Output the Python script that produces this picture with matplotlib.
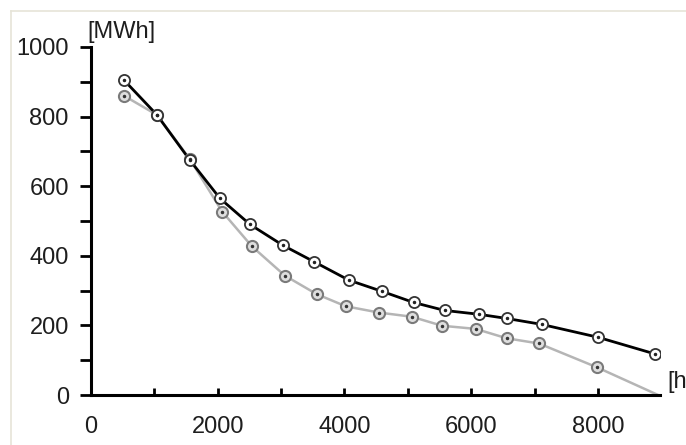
import matplotlib
matplotlib.use("Agg")
import matplotlib.pyplot as plt
from matplotlib.lines import Line2D

plt.rcParams['font.family'] = ['Liberation Sans', 'DejaVu Sans']

# duration curve points (hours, MWh)
hours_a = [520, 1040, 1560, 2035, 2510, 3030, 3520, 4070, 4590, 5090, 5580, 6120, 6560, 7110, 8000, 8900]
mwh_a = [905, 805, 675, 565, 490, 430, 383, 330, 298, 266, 243, 232, 220, 203, 166, 118]

hours_b = [520, 1040, 1560, 2070, 2540, 3060, 3560, 4020, 4540, 5060, 5540, 6070, 6560, 7070, 7980, 8950]
mwh_b = [860, 805, 678, 527, 427, 343, 290, 255, 237, 225, 199, 190, 163, 148, 80, 0]

xticks = [0, 2000, 4000, 6000, 8000]
yticks = [0, 200, 400, 600, 800, 1000]

fig = plt.figure(figsize=(6.86, 4.45), dpi=100)
ax = fig.add_axes([91/686, 1-395/445, (660-91)/686, (395-47)/445])

ax.plot(hours_a, mwh_a, color='black', lw=2.0, zorder=3)
ax.plot(hours_a, mwh_a, ls='none', marker='o', ms=8, mfc='white', mec='#333333', mew=1.3, zorder=4)
ax.plot(hours_a, mwh_a, ls='none', marker='.', ms=3, color='#222222', zorder=5)

ax.plot(hours_b, mwh_b, color='#b5b5b5', lw=1.8, zorder=2)
ax.plot(hours_b[:-1], mwh_b[:-1], ls='none', marker='o', ms=8, mfc='#dedede', mec='#7a7a7a', mew=1.5, zorder=3)
ax.plot(hours_b[:-1], mwh_b[:-1], ls='none', marker='.', ms=3, color='#333333', zorder=4)

ax.set_xlim(0, 8980)
ax.set_ylim(0, 1000)
ax.set_xticks(xticks)
ax.set_xticks(range(1000, 9000, 2000), minor=True)
ax.set_yticks(yticks)
ax.set_yticks(range(100, 1000, 200), minor=True)
ax.tick_params(axis='x', which='both', direction='in', length=5, width=2, labelsize=17, pad=15, colors='black')
ax.tick_params(axis='y', which='both', direction='out', length=8, width=2, labelsize=17, pad=8)
ax.tick_params(axis='x', labelcolor='#1e1e1e')
ax.tick_params(axis='y', labelcolor='#1e1e1e')

for s in ['top', 'right']:
    ax.spines[s].set_visible(False)
for s in ['left', 'bottom']:
    ax.spines[s].set_linewidth(2.2)
ax.patch.set_alpha(0)

fig.text(87/686, 1-43/445, '[MWh]', fontsize=17, ha='left', va='bottom', color='#1e1e1e')
fig.text(667/686, 1-382/445, '[h]', fontsize=17, ha='left', va='center', color='#1e1e1e')

# light frame of the screenshot
fig.add_artist(Line2D([11/686, 1], [1-11/445, 1-11/445], color='#e6e4d8', lw=1.2, transform=fig.transFigure))
fig.add_artist(Line2D([11/686, 11/686], [0, 1-11/445], color='#e6e4d8', lw=1.2, transform=fig.transFigure))

fig.savefig('out.png', dpi=100)
